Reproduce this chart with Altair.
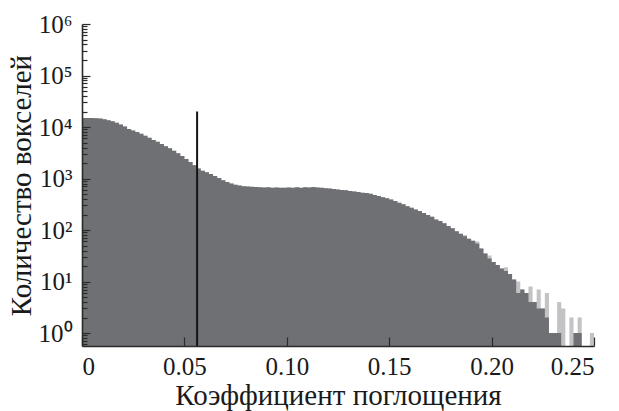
import altair as alt
import pandas as pd

# Histogram of attenuation coefficients, bin width 0.002 over [0, 0.25)
bin_width = 0.002
bin_start = [round(i * bin_width, 3) for i in range(125)]

# counts of the main (dark) histogram, one per bin
dark_counts = [
    15000, 15000, 14900, 14800, 14600, 14200, 13600, 12900, 12100, 11200,
    10200, 9200, 8600, 8000, 7400, 6800, 6200, 5600, 5150, 4700,
    4250, 3850, 3450, 3100, 2750, 2400, 2100, 1800, 1560, 1420,
    1320, 1230, 1120, 1020, 930, 860, 800, 760, 730, 710,
    700, 690, 685, 680, 670, 675, 665, 670, 660, 665,
    670, 660, 675, 665, 680, 670, 685, 670, 660, 650,
    640, 625, 610, 600, 590, 575, 560, 545, 530, 525,
    505, 480, 460, 435, 415, 390, 365, 340, 315, 290,
    270, 250, 235, 215, 195, 180, 160, 150, 135, 120,
    108, 95, 85, 76, 68, 62, 55, 44, 35, 28,
    24, 21, 18, 16, 14, 11, 6, 7, 6, 4,
    4, 3, 3, 2, 1, 1, 1, 0, 0, 0,
    1, 1, 0, 0, 0,
]

# counts of the second (light) histogram, drawn behind the dark one
light_counts = [
    15000, 15000, 14900, 14800, 14600, 14200, 13600, 12900, 12100, 11200,
    10200, 9200, 8600, 8000, 7400, 6800, 6200, 5600, 5150, 4700,
    4250, 3850, 3450, 3100, 2750, 2400, 2100, 1800, 1560, 1420,
    1320, 1230, 1120, 1020, 930, 860, 800, 760, 730, 710,
    700, 690, 685, 680, 670, 675, 665, 670, 660, 665,
    670, 660, 675, 665, 680, 670, 685, 670, 660, 650,
    640, 625, 610, 600, 590, 575, 560, 545, 530, 525,
    505, 480, 460, 435, 415, 390, 365, 340, 315, 290,
    270, 250, 235, 215, 195, 180, 160, 150, 135, 120,
    108, 95, 85, 80, 68, 62, 60, 44, 35, 32,
    24, 21, 18, 19, 14, 11, 10, 7, 6, 8,
    4, 7, 3, 6, 1, 1, 4, 3, 0, 2,
    1, 2, 0, 0, 1,
]

# threshold marker
threshold_x = 0.0562
threshold_top = 20000

y_ticks = [0.6, 0.7, 0.8, 0.9]
for p in range(6):
    y_ticks += [m * 10 ** p for m in range(1, 10)]
y_ticks.append(10 ** 6)

x_ticks = [0, 0.05, 0.10, 0.15, 0.20, 0.25]

W, H = 512, 322
FONT = "Liberation Serif"
FLOOR = 0.3  # empty bins sit below the visible log range and get clipped


def step_table(counts):
    """Two vertices per bin (left and right edge) so the area traces bin steps."""
    rows = []
    for s, c in zip(bin_start, counts):
        v = max(c, FLOOR)
        rows.append({"x": s, "n": v})
        rows.append({"x": s + bin_width - 1e-7, "n": v})
    return pd.DataFrame(rows)


is_decade = "abs(log(datum.value)/LN10 - round(log(datum.value)/LN10)) < 0.001"
sup = "['⁰','¹','²','³','⁴','⁵','⁶']"

x_scale = alt.Scale(domain=[0, 0.25], nice=False, zero=False)
x_axis = alt.Axis(
    values=x_ticks,
    labelExpr="datum.value == 0 ? '0' : format(datum.value, '.2f')",
    title="Коэффициент поглощения",
    labelFont=FONT,
    titleFont=FONT,
    tickSize={"condition": {"test": "true", "value": -9}, "value": -9},
    labelPadding=17,
    titlePadding=2,
    grid=False,
    zindex=1,
)

y_scale = alt.Scale(type="log", domain=[0.56, 1e6], nice=False)
y_axis = alt.Axis(
    values=y_ticks,
    labelExpr=f"{is_decade} ? '10' + {sup}[round(log(datum.value)/LN10)] : ''",
    title="Количество вокселей",
    labelFont=FONT,
    titleFont=FONT,
    tickSize={"condition": {"test": is_decade, "value": -8}, "value": -5},
    labelPadding=18,
    titlePadding=2,
    grid=False,
    zindex=1,
)

light = alt.Chart(step_table(light_counts)).mark_area(
    color="#c3c3c5", clip=True, interpolate="linear"
).encode(
    x=alt.X("x:Q", scale=x_scale, axis=x_axis),
    y=alt.Y("n:Q", scale=y_scale, axis=y_axis, stack=None),
    y2=alt.value(H),
)

dark = alt.Chart(step_table(dark_counts)).mark_area(
    color="#6f7074", clip=True, interpolate="linear"
).encode(
    x=alt.X("x:Q"),
    y=alt.Y("n:Q", stack=None),
    y2=alt.value(H),
)

rule_df = pd.DataFrame({"x": [threshold_x], "n": [threshold_top]})
rule = alt.Chart(rule_df).mark_rule(color="#141414", strokeWidth=2).encode(
    x="x:Q",
    y="n:Q",
    y2=alt.value(H),
)

chart = (
    alt.layer(light, dark, rule)
    .properties(
        width=W,
        height=H,
        autosize=alt.AutoSizeParams(type="none"),
        padding={"left": 82, "top": 24, "right": 25, "bottom": 65},
    )
    .configure(font=FONT)
    .configure_view(stroke=None)
    .configure_axis(
        labelFont=FONT,
        titleFont=FONT,
        labelFontSize=25,
        titleFontSize=29,
        titleFontWeight="normal",
        labelColor="#1a1a1a",
        titleColor="#1a1a1a",
        domainColor="#2a2a2a",
        domainWidth=1.6,
        tickColor="#2a2a2a",
        tickWidth=1.2,
    )
)

chart.save("out.html", embed_options={"renderer": "svg", "actions": False})
